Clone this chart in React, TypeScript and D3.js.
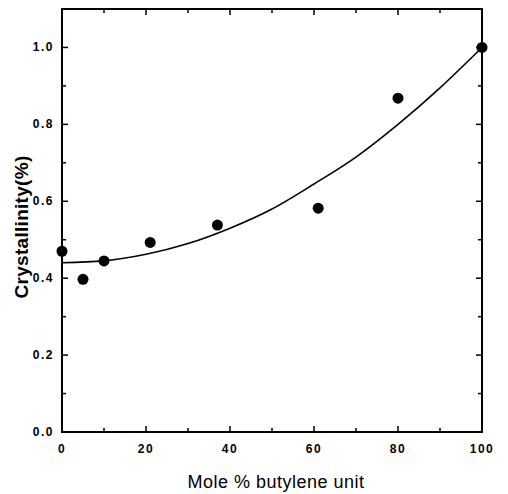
import React, { useEffect, useRef } from "react";
import * as d3 from "d3";

// measured points
const moleX = [0, 5, 10, 21, 37, 61, 80, 100];
const crystY = [0.47, 0.397, 0.445, 0.493, 0.538, 0.582, 0.868, 1.0];

// fitted curve
const fitX = [0, 10, 20, 30, 40, 50, 60, 70, 80, 90, 100];
const fitY = [0.44, 0.445, 0.462, 0.49, 0.53, 0.58, 0.645, 0.715, 0.8, 0.895, 1.0];

const xTicks = [0, 20, 40, 60, 80, 100];
const yTicks = [0, 0.2, 0.4, 0.6, 0.8, 1.0];

export default function App() {
  const svgRef = useRef<SVGSVGElement>(null);

  useEffect(() => {
    if (!svgRef.current) return;
    const width = 508;
    const height = 494;
    const m = { left: 62, right: 26, top: 9, bottom: 62 };

    const svg = d3.select(svgRef.current);
    svg.selectAll("*").remove();
    svg.attr("width", width).attr("height", height);

    const x = d3.scaleLinear().domain([0, 100]).range([m.left, width - m.right]);
    const y = d3.scaleLinear().domain([0, 1.1]).range([height - m.bottom, m.top]);

    const fontFam = "'Liberation Sans', Arial, sans-serif";

    // frame
    svg
      .append("rect")
      .attr("x", x(0))
      .attr("y", y(1.1))
      .attr("width", x(100) - x(0))
      .attr("height", y(0) - y(1.1))
      .attr("fill", "none")
      .attr("stroke", "#000")
      .attr("stroke-width", 2);

    // ticks, pointing inward on all four sides
    const xMinor = d3.range(0, 101, 10);
    const yMinor = d3.range(0, 11).map((d) => d / 10);
    xMinor.forEach((v) => {
      const len = v % 20 === 0 ? 6 : 4;
      svg.append("line").attr("x1", x(v)).attr("x2", x(v))
        .attr("y1", y(0)).attr("y2", y(0) - len).attr("stroke", "#000").attr("stroke-width", 1.5);
      svg.append("line").attr("x1", x(v)).attr("x2", x(v))
        .attr("y1", y(1.1)).attr("y2", y(1.1) + len).attr("stroke", "#000").attr("stroke-width", 1.5);
    });
    yMinor.forEach((v, i) => {
      const len = i % 2 === 0 ? 6 : 4;
      svg.append("line").attr("x1", x(0)).attr("x2", x(0) + len)
        .attr("y1", y(v)).attr("y2", y(v)).attr("stroke", "#000").attr("stroke-width", 1.5);
      svg.append("line").attr("x1", x(100)).attr("x2", x(100) - len)
        .attr("y1", y(v)).attr("y2", y(v)).attr("stroke", "#000").attr("stroke-width", 1.5);
    });

    // tick labels
    svg
      .selectAll(".xt")
      .data(xTicks)
      .join("text")
      .attr("x", (d) => x(d))
      .attr("y", y(0) + 21)
      .attr("text-anchor", "middle")
      .style("font-family", fontFam)
      .style("font-weight", "bold")
      .style("font-size", "12px")
      .style("letter-spacing", "1.5px")
      .text((d) => d);

    svg
      .selectAll(".yt")
      .data(yTicks)
      .join("text")
      .attr("x", x(0) - 8)
      .attr("y", (d) => y(d) + 4)
      .attr("text-anchor", "end")
      .style("font-family", fontFam)
      .style("font-weight", "bold")
      .style("font-size", "12px")
      .style("letter-spacing", "1.5px")
      .text((d) => d3.format(".1f")(d));

    // axis titles
    svg
      .append("text")
      .attr("x", 276)
      .attr("y", 488)
      .attr("text-anchor", "middle")
      .style("font-family", fontFam)
      .style("font-size", "18px")
      .style("letter-spacing", "0.5px")
      .text("Mole % butylene unit");

    svg
      .append("text")
      .attr("transform", `translate(28, 227) rotate(-90)`)
      .attr("text-anchor", "middle")
      .style("font-family", fontFam)
      .style("font-weight", "bold")
      .style("font-size", "19px")
      .style("letter-spacing", "0.3px")
      .text("Crystallinity(%)");

    // fitted curve
    const fit = fitX.map((v, i) => [v, fitY[i]] as [number, number]);
    const line = d3
      .line<[number, number]>()
      .x((d) => x(d[0]))
      .y((d) => y(d[1]))
      .curve(d3.curveMonotoneX);
    svg
      .append("path")
      .attr("d", line(fit))
      .attr("fill", "none")
      .attr("stroke", "#000")
      .attr("stroke-width", 1.6);

    // points
    svg
      .selectAll(".pt")
      .data(moleX.map((v, i) => [v, crystY[i]]))
      .join("circle")
      .attr("cx", (d) => x(d[0]))
      .attr("cy", (d) => y(d[1]))
      .attr("r", 5.5)
      .attr("fill", "#000");
  }, []);

  return (
    <svg
      ref={svgRef}
      style={{ position: "absolute", left: 0, top: 0, background: "#fff" }}
    />
  );
}
